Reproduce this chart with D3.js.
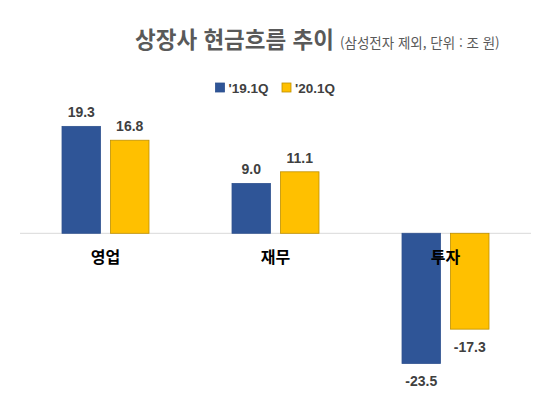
<!DOCTYPE html>
<html lang="ko">
<head>
  <meta charset="UTF-8">
  <title>상장사 현금흐름 추이</title>
  <style>
    body { margin: 0; background: #fff; }
  </style>
</head>
<body>

  <svg id="svg" width="548" height="406"></svg>

  <script src="https://d3js.org/d3.v7.min.js"></script>
  <script>
    const categories = ['영업', '재무', '투자']
    const seriesNames = ["'19.1Q", "'20.1Q"]
    const q19 = [19.3, 9.0, -23.5]
    const q20 = [16.8, 11.1, -17.3]
    const seriesColors = ['#2F5597', '#FFC000']
    const seriesStrokes = ['#2F528F', '#BF9000']

    const rows = categories.map((c, i) => ({ cat: c, vals: [q19[i], q20[i]] }))

    const svg = d3.select('#svg')
    const numFont = '"Liberation Sans", "Noto Sans CJK KR", sans-serif'
    const krFont = '"Noto Sans CJK KR", sans-serif'

    const x0 = d3.scaleBand()
      .domain(categories)
      .range([20.5, 530.5])
    const x1 = d3.scaleBand()
      .domain(seriesNames)
      .range([0, x0.bandwidth()])
      .paddingInner(0.206)
      .paddingOuter(0.856)
    const y = d3.scaleLinear()
      .domain([-25, 20])
      .range([371.8, 122.5])

    // title
    const title = svg.append('text')
      .attr('x', 135)
      .attr('y', 48)
      .attr('font-family', krFont)
      .attr('fill', '#595959')
    title.append('tspan')
      .attr('font-size', 22.5)
      .attr('font-weight', 'bold')
      .text('상장사 현금흐름 추이')
    title.append('tspan')
      .attr('dx', 6)
      .attr('font-size', 13.5)
      .text('(삼성전자 제외, 단위 : 조 원)')

    // legend
    const legendX = [215.5, 282]
    const legend = svg.selectAll('.legend')
      .data(seriesNames)
      .enter()
      .append('g')
      .attr('transform', (d, i) => `translate(${legendX[i]},83)`)
    legend.append('rect')
      .attr('width', 9)
      .attr('height', 9)
      .attr('fill', (d, i) => seriesColors[i])
      .attr('stroke', (d, i) => seriesStrokes[i])
      .attr('stroke-width', 0.8)
    legend.append('text')
      .attr('x', 13)
      .attr('y', 9.5)
      .attr('font-family', numFont)
      .attr('font-size', 13.5)
      .attr('font-weight', 'bold')
      .attr('fill', '#404040')
      .text(d => d)

    // zero line
    svg.append('line')
      .attr('x1', 20)
      .attr('x2', 531)
      .attr('y1', y(0))
      .attr('y2', y(0))
      .attr('stroke', '#D9D9D9')
      .attr('stroke-width', 1)

    const groups = svg.selectAll('.grp')
      .data(rows)
      .enter()
      .append('g')
      .attr('transform', d => `translate(${x0(d.cat)},0)`)

    const bars = groups.selectAll('rect')
      .data(d => d.vals.map((v, i) => ({ v: v, i: i })))
      .enter()

    bars.append('rect')
      .attr('x', d => x1(seriesNames[d.i]))
      .attr('width', x1.bandwidth())
      .attr('y', d => y(Math.max(0, d.v)))
      .attr('height', d => Math.abs(y(d.v) - y(0)))
      .attr('fill', d => seriesColors[d.i])
      .attr('stroke', d => seriesStrokes[d.i])
      .attr('stroke-width', 0.8)

    bars.append('text')
      .attr('x', d => x1(seriesNames[d.i]) + x1.bandwidth() / 2)
      .attr('y', d => d.v >= 0 ? y(d.v) - 9 : y(d.v) + 23)
      .attr('text-anchor', 'middle')
      .attr('font-family', numFont)
      .attr('font-size', 14)
      .attr('font-weight', 'bold')
      .attr('fill', '#404040')
      .text(d => d.v.toFixed(1))

    // category labels
    groups.append('text')
      .attr('x', x0.bandwidth() / 2)
      .attr('y', 263)
      .attr('text-anchor', 'middle')
      .attr('font-family', krFont)
      .attr('font-size', 16)
      .attr('font-weight', 'bold')
      .attr('fill', '#000')
      .text(d => d.cat)
  </script>
</body>
</html>
